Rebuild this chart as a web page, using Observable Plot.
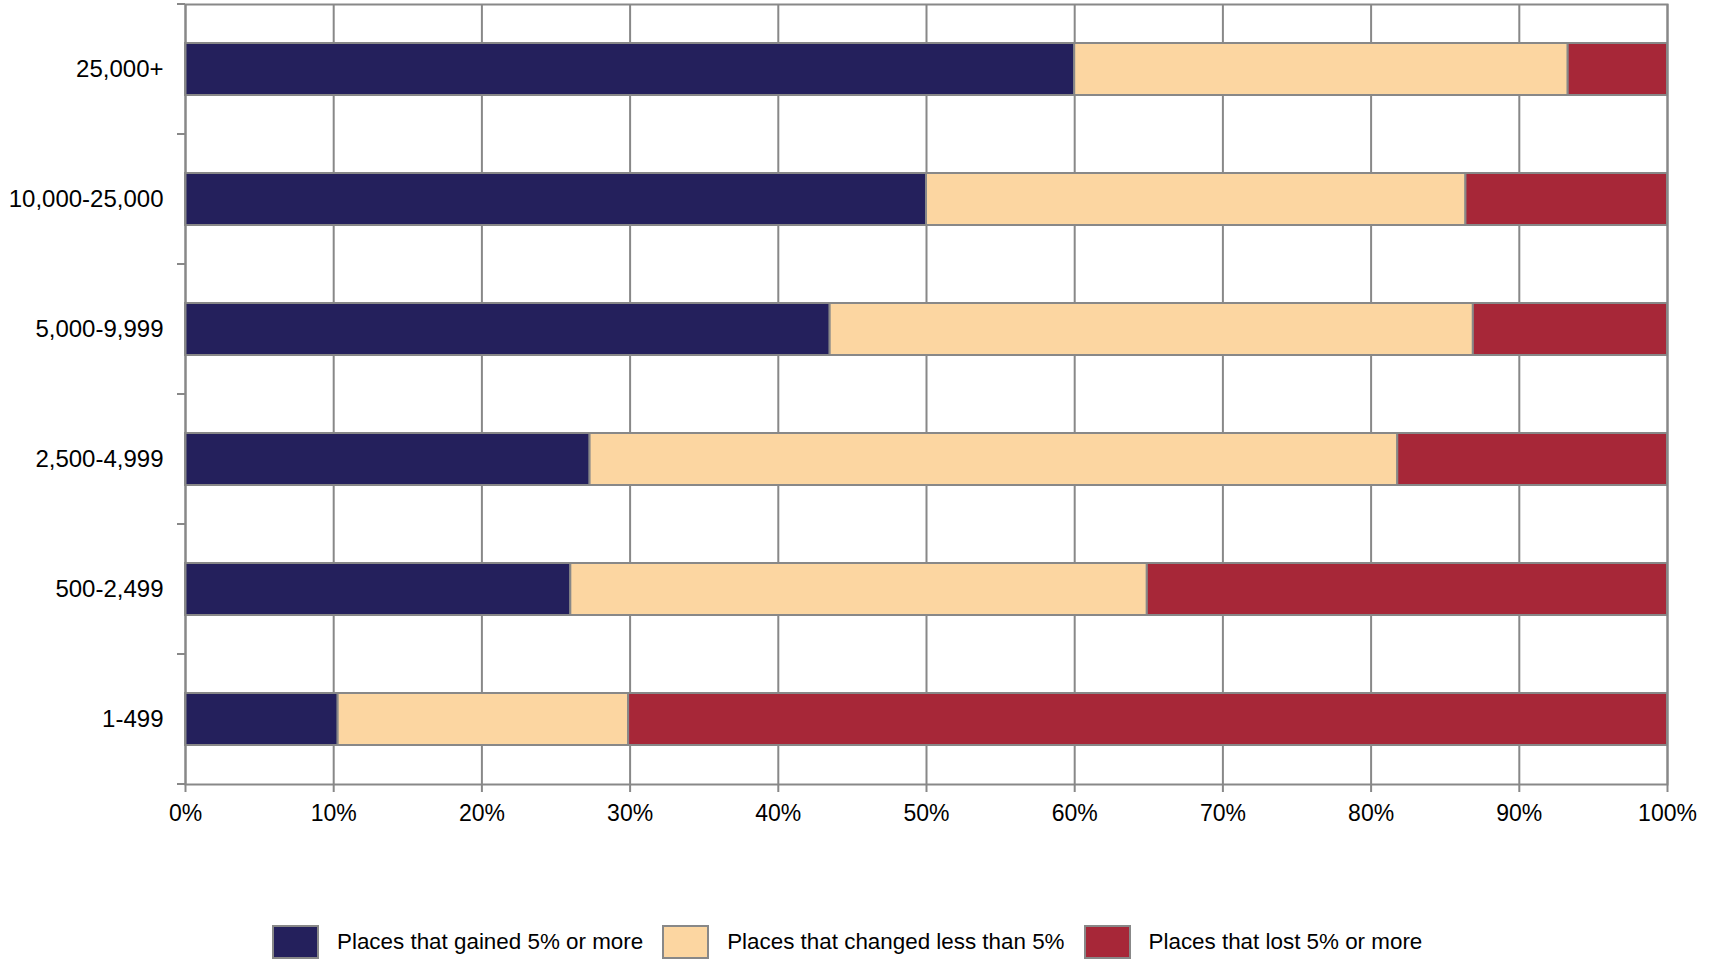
<!DOCTYPE html>
<html>
<head>
<meta charset="utf-8">
<script src="https://cdn.jsdelivr.net/npm/d3@7"></script>
<script src="https://cdn.jsdelivr.net/npm/@observablehq/plot@0.6"></script>
<style>
  html, body { margin: 0; padding: 0; background: #fff; }
  body { width: 1717px; height: 961px; position: relative; font-family: "Liberation Sans", Arial, sans-serif; }
  #chart svg { display: block; }
  #legend { position: absolute; top: 925px; left: 272px; display: flex; align-items: center; font-size: 22.4px; color: #000; }
  .item { display: flex; align-items: center; margin-right: 19px; }
  .sw { width: 43px; height: 30px; border: 2px solid #888; margin-right: 18px; }
</style>
</head>
<body>
<div id="chart"></div>
<div id="legend"></div>
<script>
const categories = ["25,000+", "10,000-25,000", "5,000-9,999", "2,500-4,999", "500-2,499", "1-499"];
const seriesNames = ["Places that gained 5% or more", "Places that changed less than 5%", "Places that lost 5% or more"];
const seriesColors = ["#24205C", "#FCD6A1", "#A72738"];
const gained  = [60.0, 50.0, 43.5, 27.3, 26.0, 10.3];
const changed = [33.3, 36.4, 43.4, 54.5, 38.9, 19.6];
const lost    = [6.7, 13.6, 13.1, 18.2, 35.1, 70.1];
const xTicks = [0, 10, 20, 30, 40, 50, 60, 70, 80, 90, 100];

const seriesValues = [gained, changed, lost];
const rows = [];
categories.forEach((c, i) => {
  seriesNames.forEach((s, j) => rows.push({category: c, series: s, value: seriesValues[j][i]}));
});

const gray = "#888";

// boundary tick marks on the left axis, placed between the bands
const boundaryTicks = (index, scales, values, dimensions) => {
  const y = scales.y;
  const step = y(categories[1]) - y(categories[0]);
  const bw = y.bandwidth ? y.bandwidth() : step * 0.4;
  const gap = (step - bw) / 2;
  const ys = categories.map(c => y(c) - gap);
  ys.push(y(categories[categories.length - 1]) + bw + gap);
  const g = d3.create("svg:g");
  const x0 = dimensions.marginLeft;
  g.selectAll("line").data(ys).join("line")
    .attr("x1", x0 - 8).attr("x2", x0)
    .attr("y1", d => d).attr("y2", d => d)
    .attr("stroke", gray).attr("stroke-width", 2);
  return g.node();
};

const chart = Plot.plot({
  width: 1717,
  height: 850,
  marginLeft: 185,
  marginRight: 50,
  marginTop: 4,
  marginBottom: 66,
  style: {fontFamily: "Liberation Sans, Arial, sans-serif", fontSize: "23px", color: "#000", background: "#fff"},
  x: {domain: [0, 100], ticks: xTicks},
  y: {domain: categories, paddingInner: 0.6, paddingOuter: 0.3},
  color: {domain: seriesNames, range: seriesColors},
  marks: [
    Plot.gridX(xTicks, {stroke: gray, strokeOpacity: 1, strokeWidth: 2}),
    Plot.barX(rows, {x: "value", y: "category", fill: "series", stroke: gray, strokeWidth: 2}),
    Plot.frame({stroke: gray, strokeWidth: 2}),
    Plot.axisX(xTicks, {tickSize: 8, tickPadding: 12, stroke: gray, strokeWidth: 2, tickFormat: d => d + "%", label: null, fill: "#000", fontSize: 23}),
    Plot.axisY({tickSize: 0, tickPadding: 22, label: null, fill: "#000", fontSize: 24}),
    boundaryTicks
  ]
});
document.getElementById("chart").appendChild(chart);

const legend = document.getElementById("legend");
seriesNames.forEach((s, i) => {
  const item = document.createElement("div");
  item.className = "item";
  const sw = document.createElement("div");
  sw.className = "sw";
  sw.style.background = seriesColors[i];
  const t = document.createElement("span");
  t.textContent = s;
  item.appendChild(sw);
  item.appendChild(t);
  legend.appendChild(item);
});
</script>
</body>
</html>
